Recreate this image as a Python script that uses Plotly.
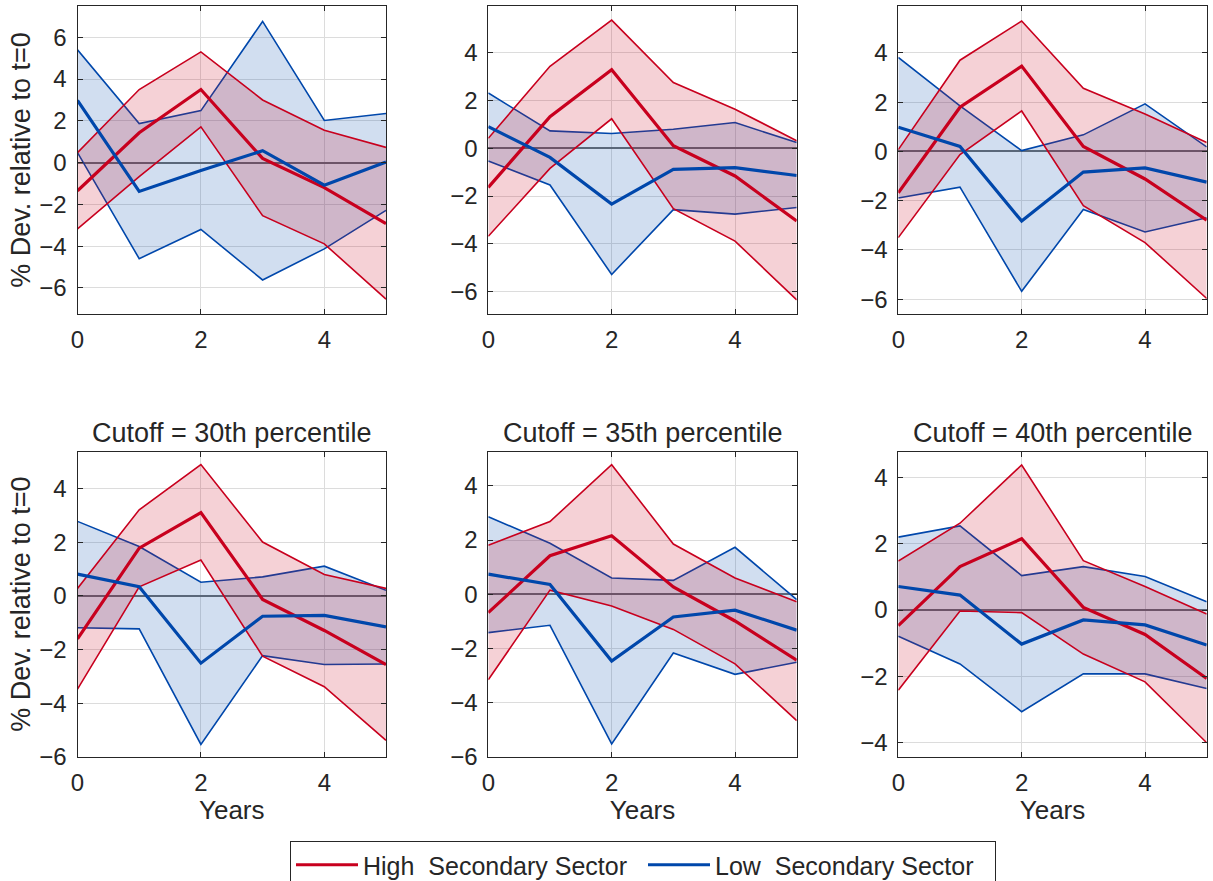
import plotly.graph_objects as go

years = [0, 1, 2, 3, 4, 5]

panel_titles = ["", "", "", "Cutoff = 30th percentile", "Cutoff = 35th percentile", "Cutoff = 40th percentile"]

# High secondary sector (red): point estimate, upper band, lower band
high_mid = [
    [-1.35, 1.43, 3.50, 0.20, -1.20, -2.92],
    [-1.64, 1.33, 3.30, 0.11, -1.16, -3.05],
    [-1.68, 1.79, 3.46, 0.20, -1.12, -2.79],
    [-1.60, 1.78, 3.11, -0.13, -1.29, -2.56],
    [-0.68, 1.42, 2.16, 0.27, -0.99, -2.44],
    [-0.47, 1.31, 2.15, 0.08, -0.74, -2.07],
]
high_up = [
    [0.48, 3.50, 5.30, 3.00, 1.55, 0.73],
    [0.42, 3.44, 5.38, 2.76, 1.64, 0.32],
    [0.07, 3.70, 5.29, 2.56, 1.52, 0.36],
    [0.28, 3.21, 4.90, 2.01, 0.80, 0.28],
    [1.81, 2.68, 4.78, 1.85, 0.60, -0.28],
    [1.48, 2.62, 4.38, 1.49, 0.71, -0.12],
]
high_lo = [
    [-3.17, -0.67, 1.71, -2.54, -3.89, -6.54],
    [-3.69, -0.84, 1.24, -2.53, -3.89, -6.36],
    [-3.50, -0.13, 1.64, -2.20, -3.70, -5.97],
    [-3.48, 0.34, 1.34, -2.25, -3.39, -5.39],
    [-3.16, 0.15, -0.44, -1.30, -2.57, -4.67],
    [-2.42, -0.03, -0.08, -1.33, -2.17, -4.01],
]

# Low secondary sector (blue)
low_mid = [
    [2.98, -1.38, -0.38, 0.57, -1.08, 0.03],
    [0.91, -0.38, -2.34, -0.88, -0.81, -1.14],
    [0.98, 0.20, -2.83, -0.84, -0.67, -1.25],
    [0.81, 0.34, -2.51, -0.76, -0.73, -1.16],
    [0.74, 0.36, -2.47, -0.84, -0.59, -1.33],
    [0.71, 0.45, -1.03, -0.30, -0.45, -1.06],
]
low_up = [
    [5.40, 1.87, 2.49, 6.76, 2.02, 2.35],
    [2.32, 0.73, 0.62, 0.80, 1.08, 0.24],
    [3.81, 1.85, 0.03, 0.67, 1.93, 0.18],
    [2.78, 1.84, 0.51, 0.71, 1.11, 0.21],
    [2.86, 1.88, 0.60, 0.51, 1.73, -0.20],
    [2.20, 2.54, 1.04, 1.31, 1.01, 0.25],
]
low_lo = [
    [0.48, -4.60, -3.20, -5.62, -4.13, -2.29],
    [-0.53, -1.54, -5.29, -2.57, -2.76, -2.48],
    [-1.89, -1.45, -5.68, -2.36, -3.27, -2.69],
    [-1.19, -1.23, -5.54, -2.23, -2.56, -2.54],
    [-1.42, -1.15, -5.53, -2.17, -2.96, -2.51],
    [-0.79, -1.63, -3.07, -1.93, -1.93, -2.37],
]

y_ranges = [[-7.25, 7.5], [-6.95, 5.97], [-6.6, 5.9], [-6.0, 5.38], [-6.0, 5.26], [-4.43, 4.78]]

series_names = ["High\u00a0\u00a0Secondary Sector", "Low\u00a0\u00a0Secondary Sector"]

RED = "#C8001E"
BLUE = "#0047AB"
RED_FILL = "rgba(200,0,30,0.18)"
BLUE_FILL = "rgba(0,71,171,0.18)"
AX = "#262626"
FONT = "Liberation Sans, Arial, sans-serif"

W, H = 1213, 881
x_dom_px = [(77.5, 386.0), (488.3, 796.7), (898.3, 1206.7)]
y_dom_px = [(6.0, 314.0), (451.7, 756.7)]

fig = go.Figure()
annotations = []

for i in range(6):
    r, c = divmod(i, 3)
    n = i + 1
    xa = "x" if n == 1 else f"x{n}"
    ya = "y" if n == 1 else f"y{n}"
    # blue band
    fig.add_trace(go.Scatter(x=years, y=low_lo[i], mode="lines", line=dict(color=BLUE, width=1.6),
                             showlegend=False, hoverinfo="skip", xaxis=xa, yaxis=ya))
    fig.add_trace(go.Scatter(x=years, y=low_up[i], mode="lines", line=dict(color=BLUE, width=1.6),
                             fill="tonexty", fillcolor=BLUE_FILL,
                             showlegend=False, hoverinfo="skip", xaxis=xa, yaxis=ya))
    # red band
    fig.add_trace(go.Scatter(x=years, y=high_lo[i], mode="lines", line=dict(color=RED, width=1.6),
                             showlegend=False, hoverinfo="skip", xaxis=xa, yaxis=ya))
    fig.add_trace(go.Scatter(x=years, y=high_up[i], mode="lines", line=dict(color=RED, width=1.6),
                             fill="tonexty", fillcolor=RED_FILL,
                             showlegend=False, hoverinfo="skip", xaxis=xa, yaxis=ya))
    # point estimates
    fig.add_trace(go.Scatter(x=years, y=high_mid[i], mode="lines", line=dict(color=RED, width=3.2),
                             name=series_names[0], showlegend=(i == 0), legendrank=1,
                             xaxis=xa, yaxis=ya))
    fig.add_trace(go.Scatter(x=years, y=low_mid[i], mode="lines", line=dict(color=BLUE, width=3.2),
                             name=series_names[1], showlegend=(i == 0), legendrank=2,
                             xaxis=xa, yaxis=ya))

    x0, x1 = x_dom_px[c]
    ytop, ybot = y_dom_px[r]
    xdom = [x0 / W, x1 / W]
    ydom = [(H - ybot) / H, (H - ytop) / H]
    axis_common = dict(showline=True, mirror="ticks", linecolor=AX, linewidth=1,
                       ticks="inside", ticklen=5, tickcolor=AX, tickwidth=1,
                       showgrid=True, gridcolor="#DCDCDC", gridwidth=1, automargin=False,
                       tickfont=dict(family=FONT, size=24, color=AX))
    xkey = "xaxis" if n == 1 else f"xaxis{n}"
    ykey = "yaxis" if n == 1 else f"yaxis{n}"
    xaxis = dict(domain=xdom, anchor=ya, range=[0, 5], tickvals=[0, 2, 4],
                 zeroline=False, ticklabelstandoff=4, **axis_common)
    if r == 1:
        xaxis["title"] = dict(text="Years", font=dict(family=FONT, size=26, color=AX), standoff=4)
    yaxis = dict(domain=ydom, anchor=xa, range=y_ranges[i], dtick=2,
                 zeroline=True, zerolinecolor="#6E6E6E", zerolinewidth=1.6,
                 ticklabelstandoff=5, **axis_common)
    if c == 0:
        yaxis["title"] = dict(text="% Dev. relative to t=0", font=dict(family=FONT, size=27, color=AX),
                              standoff=0)
    fig.layout[xkey] = xaxis
    fig.layout[ykey] = yaxis

    if panel_titles[i]:
        annotations.append(dict(text=panel_titles[i], x=(xdom[0] + xdom[1]) / 2, y=ydom[1],
                                xref="paper", yref="paper", xanchor="center", yanchor="bottom",
                                yshift=2, showarrow=False,
                                font=dict(family=FONT, size=27, color=AX)))

fig.update_layout(
    width=W, height=H,
    margin=dict(l=0, r=0, t=0, b=0, autoexpand=False),
    paper_bgcolor="white", plot_bgcolor="white",
    annotations=annotations,
    showlegend=True,
    legend=dict(orientation="h", x=643 / W, xanchor="center", y=-8 / H, yanchor="bottom",
                bordercolor=AX, borderwidth=1, bgcolor="white",
                font=dict(family=FONT, size=25, color=AX),
                itemwidth=62, entrywidth=275, entrywidthmode="pixels", traceorder="normal"),
)

fig.write_html("out.html", config={"displayModeBar": False},
               post_script="document.body.style.margin='0';")
